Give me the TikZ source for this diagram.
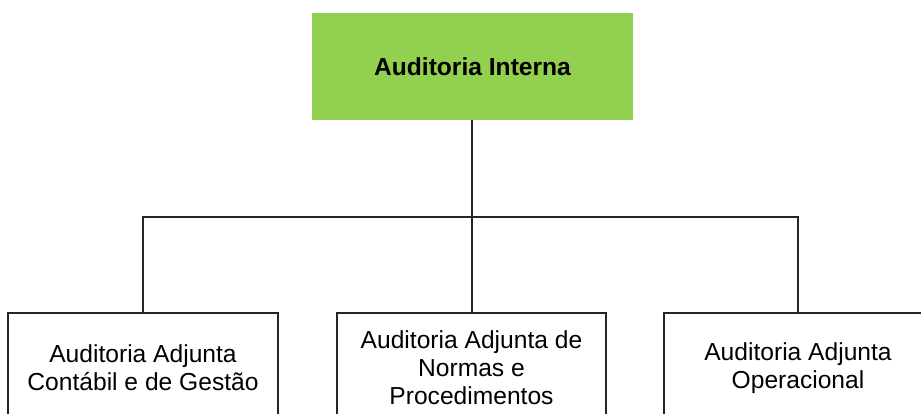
\documentclass[tikz,border=0pt]{standalone}
\usepackage{fontspec}
\setmainfont{Liberation Sans}
\usetikzlibrary{positioning}

\begin{document}
\begin{tikzpicture}[x=1pt, y=-1pt]
\tikzstyle{head} = [rectangle, fill={rgb,255:red,146;green,208;blue,80}, minimum width=321pt, minimum height=107pt, font=\fontsize{24.6}{28}\selectfont\bfseries]
\tikzstyle{unit} = [rectangle, draw=black!85, line width=1.2pt, fill=white, minimum height=110pt, align=center, font=\fontsize{24.6}{28}\selectfont]
\tikzstyle{line} = [draw=black!85, line width=1.2pt]

\useasboundingbox (0,0) rectangle (921,414);
\clip (0,0) rectangle (921,414);

\node [head] (interna) at (472.5,66.5) {Auditoria Interna};
\node [unit, minimum width=270pt] (contabil) at (143,368) {Auditoria Adjunta\\Contábil e de Gestão};
\node [unit, minimum width=269pt] (normas) at (471.5,368) {Auditoria Adjunta de\\Normas e\\Procedimentos};
\node [unit, minimum width=268pt] (operacional) at (798,368) {Auditoria Adjunta\\Operacional};
\coordinate (bus) at (472,217);

\draw [line] (interna.south -| bus) -- (normas.north -| bus);
\draw [line] (contabil.north) |- (bus) -| (operacional.north);
\end{tikzpicture}
\end{document}
